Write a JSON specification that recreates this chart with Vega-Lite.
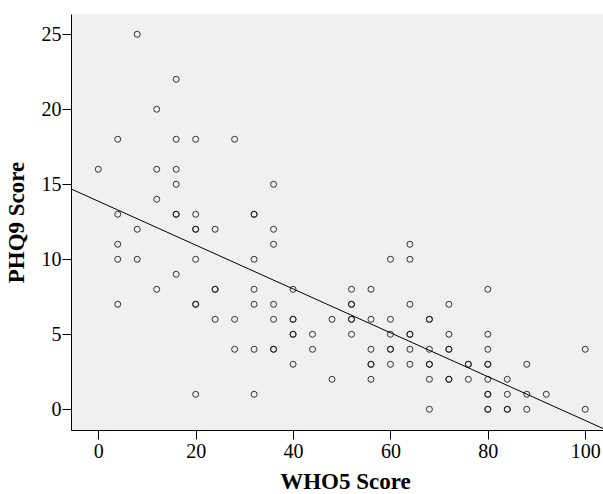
{
  "$schema": "https://vega.github.io/schema/vega-lite/v6.json",
  "autosize": "none",
  "width": 532,
  "height": 416,
  "padding": {"left": 71, "top": 14, "right": 0, "bottom": 64},
  "background": "white",
  "view": {"fill": "#f0f0f0", "stroke": null},
  "config": {
    "view": {"fill": "#f0f0f0", "stroke": null},
    "axis": {
      "grid": false,
      "domainColor": "#000",
      "tickColor": "#000",
      "tickSize": 9,
      "labelFont": "Liberation Serif",
      "labelFontSize": 20,
      "labelColor": "#000",
      "titleFont": "Liberation Serif",
      "titleFontSize": 23,
      "titleFontWeight": "bold",
      "titleColor": "#000"
    }
  },
  "datasets": {
    "scores": [
      {"who5": 0, "phq9": 16},
      {"who5": 4, "phq9": 18}, {"who5": 4, "phq9": 13}, {"who5": 4, "phq9": 11}, {"who5": 4, "phq9": 10}, {"who5": 4, "phq9": 7},
      {"who5": 8, "phq9": 25}, {"who5": 8, "phq9": 12}, {"who5": 8, "phq9": 10},
      {"who5": 12, "phq9": 20}, {"who5": 12, "phq9": 16}, {"who5": 12, "phq9": 14}, {"who5": 12, "phq9": 8},
      {"who5": 16, "phq9": 22}, {"who5": 16, "phq9": 18}, {"who5": 16, "phq9": 16}, {"who5": 16, "phq9": 15}, {"who5": 16, "phq9": 13}, {"who5": 16, "phq9": 13}, {"who5": 16, "phq9": 9},
      {"who5": 20, "phq9": 18}, {"who5": 20, "phq9": 13}, {"who5": 20, "phq9": 12}, {"who5": 20, "phq9": 12}, {"who5": 20, "phq9": 10}, {"who5": 20, "phq9": 7}, {"who5": 20, "phq9": 7}, {"who5": 20, "phq9": 1},
      {"who5": 24, "phq9": 12}, {"who5": 24, "phq9": 8}, {"who5": 24, "phq9": 8}, {"who5": 24, "phq9": 6},
      {"who5": 28, "phq9": 18}, {"who5": 28, "phq9": 6}, {"who5": 28, "phq9": 4},
      {"who5": 32, "phq9": 13}, {"who5": 32, "phq9": 13}, {"who5": 32, "phq9": 10}, {"who5": 32, "phq9": 8}, {"who5": 32, "phq9": 7}, {"who5": 32, "phq9": 4}, {"who5": 32, "phq9": 1},
      {"who5": 36, "phq9": 15}, {"who5": 36, "phq9": 12}, {"who5": 36, "phq9": 11}, {"who5": 36, "phq9": 7}, {"who5": 36, "phq9": 6}, {"who5": 36, "phq9": 4}, {"who5": 36, "phq9": 4},
      {"who5": 40, "phq9": 8}, {"who5": 40, "phq9": 6}, {"who5": 40, "phq9": 6}, {"who5": 40, "phq9": 5}, {"who5": 40, "phq9": 5}, {"who5": 40, "phq9": 3},
      {"who5": 44, "phq9": 5}, {"who5": 44, "phq9": 4},
      {"who5": 48, "phq9": 6}, {"who5": 48, "phq9": 2},
      {"who5": 52, "phq9": 8}, {"who5": 52, "phq9": 7}, {"who5": 52, "phq9": 7}, {"who5": 52, "phq9": 6}, {"who5": 52, "phq9": 6}, {"who5": 52, "phq9": 5},
      {"who5": 56, "phq9": 8}, {"who5": 56, "phq9": 6}, {"who5": 56, "phq9": 4}, {"who5": 56, "phq9": 3}, {"who5": 56, "phq9": 3}, {"who5": 56, "phq9": 2},
      {"who5": 60, "phq9": 10}, {"who5": 60, "phq9": 6}, {"who5": 60, "phq9": 5}, {"who5": 60, "phq9": 4}, {"who5": 60, "phq9": 4}, {"who5": 60, "phq9": 3},
      {"who5": 64, "phq9": 11}, {"who5": 64, "phq9": 10}, {"who5": 64, "phq9": 7}, {"who5": 64, "phq9": 5}, {"who5": 64, "phq9": 5}, {"who5": 64, "phq9": 4}, {"who5": 64, "phq9": 3},
      {"who5": 68, "phq9": 6}, {"who5": 68, "phq9": 6}, {"who5": 68, "phq9": 4}, {"who5": 68, "phq9": 3}, {"who5": 68, "phq9": 3}, {"who5": 68, "phq9": 2}, {"who5": 68, "phq9": 0},
      {"who5": 72, "phq9": 7}, {"who5": 72, "phq9": 5}, {"who5": 72, "phq9": 4}, {"who5": 72, "phq9": 4}, {"who5": 72, "phq9": 2}, {"who5": 72, "phq9": 2},
      {"who5": 76, "phq9": 3}, {"who5": 76, "phq9": 3}, {"who5": 76, "phq9": 2},
      {"who5": 80, "phq9": 8}, {"who5": 80, "phq9": 5}, {"who5": 80, "phq9": 4}, {"who5": 80, "phq9": 3}, {"who5": 80, "phq9": 3}, {"who5": 80, "phq9": 2}, {"who5": 80, "phq9": 1}, {"who5": 80, "phq9": 1}, {"who5": 80, "phq9": 0}, {"who5": 80, "phq9": 0},
      {"who5": 84, "phq9": 2}, {"who5": 84, "phq9": 1}, {"who5": 84, "phq9": 0}, {"who5": 84, "phq9": 0},
      {"who5": 88, "phq9": 3}, {"who5": 88, "phq9": 1}, {"who5": 88, "phq9": 0},
      {"who5": 92, "phq9": 1},
      {"who5": 100, "phq9": 4}, {"who5": 100, "phq9": 0}
    ],
    "fit": [
      {"who5": -5.6, "phq9": 14.69},
      {"who5": 103.65, "phq9": -1.28}
    ]
  },
  "layer": [
    {
      "data": {"name": "scores"},
      "mark": {"type": "point", "shape": "circle", "filled": false, "color": "#111", "strokeWidth": 1, "size": 36, "opacity": 0.85},
      "encoding": {
        "x": {"field": "who5", "type": "quantitative", "title": "WHO5 Score",
              "scale": {"domain": [-5.6, 103.65], "nice": false, "zero": false},
              "axis": {"values": [0, 20, 40, 60, 80, 100], "labelPadding": 2, "titlePadding": 9, "titleX": 274}},
        "y": {"field": "phq9", "type": "quantitative", "title": "PHQ9 Score",
              "scale": {"domain": [-1.38, 26.35], "nice": false, "zero": false},
              "axis": {"values": [0, 5, 10, 15, 20, 25], "labelPadding": 1, "titlePadding": 13}}
      }
    },
    {
      "data": {"name": "fit"},
      "mark": {"type": "line", "color": "#000", "strokeWidth": 1, "clip": true},
      "encoding": {
        "x": {"field": "who5", "type": "quantitative"},
        "y": {"field": "phq9", "type": "quantitative"}
      }
    },
    {
      "description": "Top edge of the plot frame",
      "mark": {"type": "rule", "color": "#000", "strokeWidth": 1},
      "encoding": {"y": {"datum": 26.35}}
    }
  ]
}
